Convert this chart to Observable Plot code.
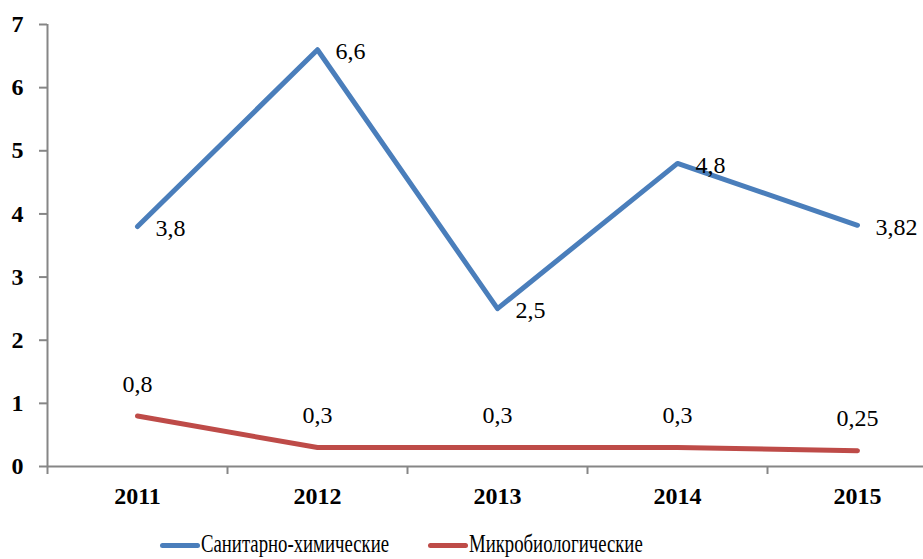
<!DOCTYPE html>
<html>
<head>
<meta charset="utf-8">
<script src="https://cdn.jsdelivr.net/npm/d3@7"></script>
<script src="https://cdn.jsdelivr.net/npm/@observablehq/plot@0.6"></script>
<style>
  body { margin: 0; background: #fff; }
  #chart { position: relative; width: 923px; height: 559px; overflow: hidden; background: #fff; }
  #chart svg { position: absolute; left: 0; top: 0; }
  /* grey axis ticks, black tick labels */
  #chart svg [aria-label^="x-axis"] line, #chart svg [aria-label^="x-axis"] path,
  #chart svg [aria-label^="y-axis"] line, #chart svg [aria-label^="y-axis"] path {
    stroke: #868686; stroke-width: 2px;
  }
  .legend-swatch { position: absolute; top: 543px; width: 40px; height: 5px; border-radius: 3px; }
  .legend-label { position: absolute; top: 531px; line-height: 25px; font-family: "Liberation Serif", serif;
    font-size: 25px; color: #000; white-space: nowrap; transform: scaleX(0.75); transform-origin: left center; }
</style>
</head>
<body>
<div id="chart"></div>
<script>
// Years on the horizontal axis
const years = [2011, 2012, 2013, 2014, 2015];
// Share of samples not meeting standards, %
const sanitary = [3.8, 6.6, 2.5, 4.8, 3.82];      // Санитарно-химические
const microbio = [0.8, 0.3, 0.3, 0.3, 0.25];      // Микробиологические
const yTicks = [0, 1, 2, 3, 4, 5, 6, 7];
const seriesNames = ["Санитарно-химические", "Микробиологические"];
const colors = ["#4a7ebb", "#be4b48"];
const serif = "'Liberation Serif', 'Times New Roman', serif";

const rowsA = years.map((year, i) => ({year, value: sanitary[i]}));
const rowsB = years.map((year, i) => ({year, value: microbio[i]}));
// category boundaries, where the x tick marks sit
const bounds = [years[0] - 0.5, ...years.map(y => y + 0.5)];
const fmt = v => String(v).replace(".", ",");

const W = 923, H = 530;
const chart = Plot.plot({
  width: W,
  height: H,
  marginLeft: 47,
  marginRight: 0,
  marginTop: 24,
  marginBottom: 64,
  style: {fontFamily: serif, fontSize: "24px", fontWeight: "bold", color: "#000", background: "#fff"},
  x: {domain: [bounds[0], bounds[bounds.length - 1]], range: [47, 947], ticks: bounds,
      tickFormat: () => "", tickSize: 8, label: null},
  y: {domain: [0, 7], ticks: yTicks, tickSize: 8, tickPadding: 16, tickFormat: d => String(d), label: null},
  marks: [
    Plot.ruleY([0], {stroke: "#868686", strokeWidth: 2}),
    Plot.ruleX([bounds[0]], {y1: 0, y2: 7, stroke: "#868686", strokeWidth: 2}),
    Plot.text(years, {x: d => d, y: () => 0, text: d => String(d), dy: 30,
                      fontFamily: serif, fontWeight: "bold", fontSize: 24}),
    Plot.line(rowsB, {x: "year", y: "value", stroke: colors[1], strokeWidth: 5,
                      strokeLinejoin: "round", strokeLinecap: "round"}),
    Plot.line(rowsA, {x: "year", y: "value", stroke: colors[0], strokeWidth: 5,
                      strokeLinejoin: "round", strokeLinecap: "round"}),
    Plot.text(rowsA, {x: "year", y: "value", text: d => fmt(d.value), textAnchor: "start",
                      dx: 18, dy: 2, fontFamily: serif, fontWeight: "normal", fontSize: 24}),
    Plot.text(rowsB, {x: "year", y: "value", text: d => fmt(d.value),
                      dy: -32, fontFamily: serif, fontWeight: "normal", fontSize: 24})
  ]
});
const root = document.getElementById("chart");
root.appendChild(chart);

// legend below the plot: a line swatch followed by the series name
const legendLeft = [160, 428];
seriesNames.forEach((name, i) => {
  const sw = document.createElement("div");
  sw.className = "legend-swatch";
  sw.style.left = legendLeft[i] + "px";
  sw.style.background = colors[i];
  const label = document.createElement("div");
  label.className = "legend-label";
  label.style.left = (legendLeft[i] + 41) + "px";
  label.textContent = name;
  root.appendChild(sw);
  root.appendChild(label);
});
</script>
</body>
</html>
